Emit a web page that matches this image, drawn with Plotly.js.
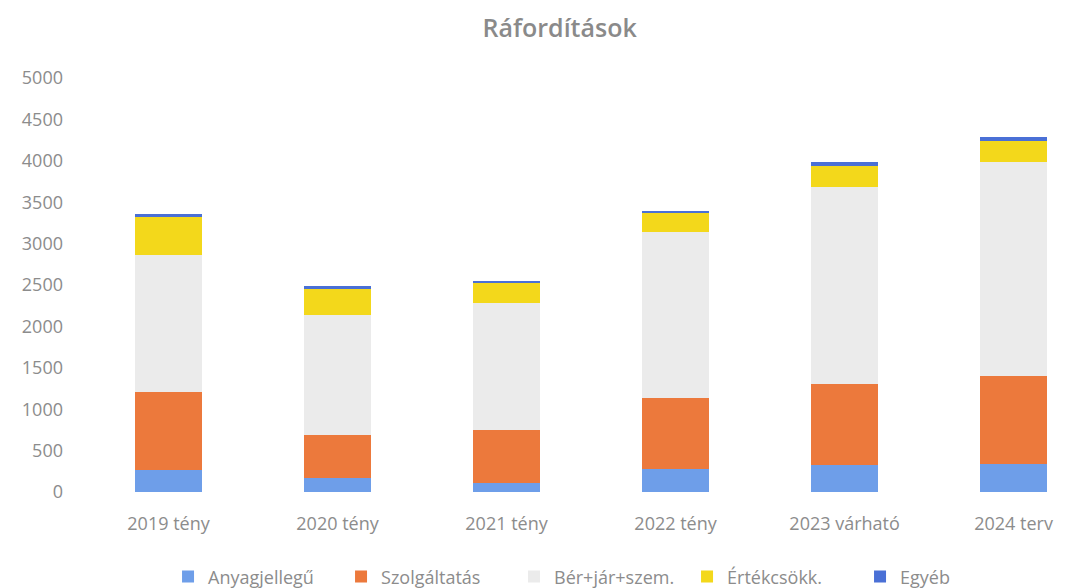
<!DOCTYPE html>
<html><head><meta charset="utf-8">
<script src="https://cdn.plot.ly/plotly-3.0.1.min.js"></script>
<style>html,body{margin:0;padding:0;background:#fff}#c{width:1066px;height:588px}</style>
</head><body><div id="c"></div>
<script>
const categories = ["2019 tény","2020 tény","2021 tény","2022 tény","2023 várható","2024 terv"];
const seriesNames = ["Anyagjellegű","Szolgáltatás","Bér+jár+szem.","Értékcsökk.","Egyéb"];
const anyagjellegu = [260, 165, 112, 280, 325, 337];
const szolgaltatas = [945, 528, 641, 858, 981, 1069];
const ber = [1660, 1445, 1525, 2005, 2380, 2585];
const ertekcsokk = [452, 314, 255, 238, 252, 252];
const egyeb = [40, 40, 14, 14, 48, 40];
const yTicks = [0,500,1000,1500,2000,2500,3000,3500,4000,4500,5000];

const colors = ["#6e9ee9","#ec793c","#ebebeb","#f3d81b","#4a70d6"];
const vals = [anyagjellegu, szolgaltatas, ber, ertekcsokk, egyeb];
const FONT = '"Open Sans", Lato, sans-serif';
const data = vals.map((v,i)=>({
  type:'bar', x:categories, y:v, name:seriesNames[i],
  marker:{color:colors[i]}
}));
const layout = {
  width:1066, height:588,
  margin:{l:84, r:0, t:78, b:96, autoexpand:false},
  barmode:'stack', bargap:0.6,
  paper_bgcolor:'#fff', plot_bgcolor:'#fff',
  font:{family:FONT, color:'#8c8c8c', size:18},
  title:{text:'Ráfordítások', x:0.525, xanchor:'center', y:0.952, yanchor:'middle',
    font:{size:25, color:'#8a8a8a', family:FONT, weight:600}},
  xaxis:{range:[-0.5,5.31], showgrid:false, zeroline:false, showline:false, ticks:'',
    tickfont:{size:18, color:'#8c8c8c'}, ticklabelstandoff:19},
  yaxis:{range:[0,5000], tickvals:yTicks, showgrid:false, zeroline:false, showline:false,
    ticks:'', tickfont:{size:18, color:'#8c8c8c'}, ticklabelstandoff:20},
  showlegend:true,
  legend:{orientation:'h', x:0.526, xanchor:'center', y:-0.205, yanchor:'middle',
    font:{size:18, color:'#8c8c8c'}, itemwidth:30, traceorder:'normal',
    entrywidth:128, entrywidthmode:'pixels'}
};
Plotly.newPlot('c', data, layout, {displayModeBar:false});
</script></body></html>
